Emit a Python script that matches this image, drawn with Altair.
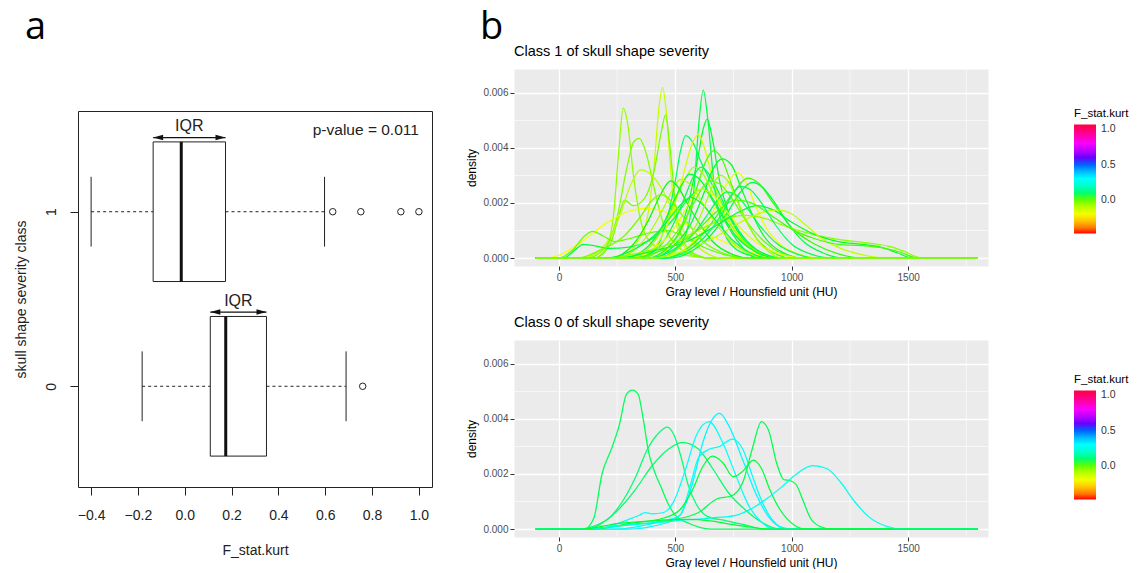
import altair as alt
import pandas as pd

# ---------------- Panel a: boxplot summary ----------------
box_class = [1, 0]
box_low = [-0.40, -0.182]
box_q1 = [-0.135, 0.109]
box_median = [-0.015, 0.175]
box_q3 = [0.174, 0.349]
box_high = [0.597, 0.689]
outlier_class = [1, 1, 1, 1, 0]
outlier_value = [0.632, 0.752, 0.923, 1.0, 0.760]
x_ticks_a = [-0.4, -0.2, 0.0, 0.2, 0.4, 0.6, 0.8, 1.0]
y_ticks_a = [0, 1]
p_value_label = ["p-value = 0.011"]
panel_letters = ["a", "b"]

# ---------------- Panel b: density curves (x in HU, y in density x 1000) ----------------
class1_kurt = [-0.05, -0.12, -0.02, -0.03, -0.10, -0.20, 0.00, 0.06, 0.07, 0.05,
               0.08, -0.14, 0.02, 0.05, -0.18, 0.03, 0.06, -0.06, 0.05, 0.07,
               -0.08, 0.04, 0.00, 0.075, -0.16, -0.04, 0.05, -0.11, 0.02, 0.06,
               -0.02, 0.08, -0.07]
class1_x = [
    [150, 200, 235, 258, 276, 295, 320, 350, 390, 450, 550, 650],
    [250, 330, 380, 410, 430, 445, 460, 480, 500, 530, 580, 650],
    [150, 220, 260, 282, 320, 370, 410, 440, 458, 475, 500, 530, 580, 650],
    [120, 200, 250, 290, 320, 345, 375, 410, 450, 500, 560, 640],
    [100, 200, 260, 310, 350, 400, 450, 500, 560, 620, 700],
    [-60, 0, 100, 200, 300, 370, 450, 550, 650, 750, 850, 950],
    [0, 60, 110, 145, 190, 240, 300, 380, 460, 540, 620, 700, 800],
    [20, 70, 105, 150, 220, 300, 400, 500, 560, 620, 680, 760, 850],
    [420, 500, 550, 580, 600, 620, 640, 665, 700, 750, 820, 900],
    [380, 470, 530, 570, 600, 620, 637, 660, 690, 730, 790, 870, 950],
    [340, 420, 470, 500, 520, 545, 575, 610, 650, 700, 760, 840, 930],
    [330, 420, 480, 530, 570, 600, 625, 660, 700, 750, 820, 900],
    [380, 470, 540, 590, 630, 665, 700, 740, 790, 850, 920, 1000],
    [400, 500, 570, 620, 660, 700, 740, 780, 830, 880, 950, 1050],
    [450, 550, 620, 680, 730, 765, 800, 840, 890, 950, 1030, 1120],
    [450, 560, 640, 700, 760, 810, 860, 920, 1000, 1100, 1200, 1300],
    [480, 580, 660, 720, 780, 830, 870, 920, 980, 1050, 1130, 1220],
    [300, 400, 460, 510, 550, 580, 615, 660, 710, 770, 850, 950],
    [280, 380, 440, 490, 530, 560, 600, 650, 700, 760, 840, 930],
    [330, 430, 490, 540, 580, 610, 640, 680, 730, 790, 870, 960],
    [250, 350, 410, 460, 495, 520, 560, 610, 670, 740, 820, 900],
    [220, 320, 380, 430, 460, 480, 510, 550, 600, 660, 740, 820],
    [350, 450, 520, 580, 620, 650, 690, 740, 800, 870, 950, 1050],
    [400, 500, 580, 640, 690, 720, 760, 810, 870, 940, 1020, 1100],
    [300, 400, 480, 540, 580, 610, 660, 720, 790, 860, 950, 1050],
    [200, 350, 500, 620, 720, 800, 880, 960, 1050, 1150, 1250, 1350, 1420, 1480, 1560],
    [250, 400, 550, 680, 780, 850, 920, 1000, 1100, 1200, 1300, 1380, 1450, 1520],
    [400, 550, 680, 780, 870, 940, 1000, 1060, 1130, 1210, 1300, 1400],
    [300, 450, 580, 680, 760, 840, 920, 1000, 1100, 1200, 1300, 1400, 1470, 1540],
    [200, 320, 420, 490, 530, 565, 610, 670, 740, 820, 900],
    [80, 180, 280, 350, 400, 440, 490, 550, 620, 700, 800],
    [450, 560, 640, 700, 745, 780, 820, 870, 930, 1000, 1080, 1170],
    [420, 520, 590, 640, 670, 695, 725, 770, 820, 880, 960],
]
class1_y = [
    [0, 0.3, 1.6, 4.0, 5.45, 4.9, 3.0, 1.4, 0.6, 0.3, 0.1, 0],
    [0, 0.5, 1.5, 3.5, 5.5, 6.2, 5.4, 3.2, 1.5, 0.5, 0.15, 0],
    [0, 0.5, 1.6, 2.1, 1.9, 2.2, 3.2, 4.6, 5.2, 4.2, 2.0, 0.7, 0.15, 0],
    [0, 0.4, 1.5, 3.2, 4.2, 4.35, 3.8, 2.5, 1.2, 0.5, 0.15, 0],
    [0, 0.5, 1.5, 2.7, 3.2, 3.0, 2.4, 1.5, 0.7, 0.25, 0],
    [0, 0.1, 0.6, 1.25, 1.7, 1.8, 1.7, 1.2, 0.8, 0.45, 0.15, 0],
    [0, 0.3, 0.8, 0.97, 0.8, 0.6, 0.7, 0.9, 1.0, 0.8, 0.4, 0.15, 0],
    [0, 0.3, 0.5, 0.45, 0.35, 0.4, 0.7, 1.5, 2.2, 2.5, 1.8, 0.7, 0],
    [0, 0.3, 1.0, 2.5, 4.8, 6.1, 5.0, 2.8, 1.2, 0.4, 0.1, 0],
    [0, 0.4, 1.2, 2.5, 3.8, 4.7, 5.05, 4.3, 2.8, 1.6, 0.7, 0.2, 0],
    [0, 0.4, 1.6, 2.8, 3.8, 4.45, 4.2, 3.5, 2.8, 2.0, 1.1, 0.35, 0],
    [0, 0.5, 1.5, 2.9, 4.1, 4.5, 4.0, 2.9, 1.9, 1.1, 0.4, 0],
    [0, 0.4, 1.3, 2.5, 3.5, 3.9, 3.6, 2.7, 1.6, 0.7, 0.2, 0],
    [0, 0.5, 1.3, 2.3, 3.2, 3.6, 3.4, 2.6, 1.6, 0.8, 0.25, 0],
    [0, 0.4, 1.0, 2.0, 2.8, 3.1, 2.8, 2.0, 1.1, 0.5, 0.15, 0],
    [0, 0.4, 1.1, 1.8, 2.5, 2.9, 2.7, 2.0, 1.1, 0.5, 0.15, 0],
    [0, 0.3, 0.9, 1.6, 2.4, 2.75, 2.6, 2.1, 1.3, 0.6, 0.2, 0],
    [0, 0.5, 1.3, 2.3, 3.0, 3.3, 3.1, 2.4, 1.6, 0.8, 0.25, 0],
    [0, 0.4, 1.1, 2.0, 2.7, 3.05, 2.9, 2.3, 1.6, 0.8, 0.25, 0],
    [0, 0.4, 1.2, 2.2, 3.0, 3.3, 3.1, 2.5, 1.6, 0.8, 0.2, 0],
    [0, 0.5, 1.2, 2.0, 2.6, 2.85, 2.7, 2.1, 1.3, 0.6, 0.15, 0],
    [0, 0.5, 1.3, 2.2, 2.65, 2.8, 2.6, 2.0, 1.3, 0.6, 0.15, 0],
    [0, 0.4, 1.1, 2.0, 2.6, 2.8, 2.7, 2.2, 1.4, 0.7, 0.2, 0],
    [0, 0.35, 0.9, 1.6, 2.2, 2.4, 2.3, 1.8, 1.1, 0.5, 0.15, 0],
    [0, 0.3, 0.9, 1.7, 2.3, 2.5, 2.3, 1.7, 1.0, 0.5, 0.15, 0],
    [0, 0.2, 0.6, 1.1, 1.45, 1.55, 1.45, 1.2, 0.95, 0.75, 0.62, 0.52, 0.42, 0.25, 0],
    [0, 0.25, 0.6, 1.2, 1.7, 1.9, 1.75, 1.3, 0.85, 0.6, 0.5, 0.4, 0.2, 0],
    [0, 0.3, 0.8, 1.3, 1.65, 1.75, 1.6, 1.2, 0.7, 0.35, 0.12, 0],
    [0, 0.3, 0.9, 1.7, 2.1, 1.95, 1.5, 1.05, 0.7, 0.5, 0.45, 0.35, 0.2, 0],
    [0, 0.3, 0.9, 1.6, 2.0, 2.2, 2.0, 1.4, 0.7, 0.2, 0],
    [0, 0.3, 0.8, 1.5, 2.1, 2.3, 2.0, 1.3, 0.6, 0.2, 0],
    [0, 0.3, 0.9, 1.6, 2.3, 2.6, 2.5, 2.0, 1.2, 0.5, 0.15, 0],
    [0, 0.4, 1.2, 2.2, 2.8, 3.0, 2.8, 2.0, 1.1, 0.4, 0],
]

class0_kurt = [0.08, 0.10, 0.09, 0.30, 0.31, 0.28, 0.06, 0.07, 0.26, 0.05]
class0_x = [
    [110, 150, 185, 225, 260, 290, 315, 340, 362, 385, 410, 440, 470, 500, 560, 650],
    [80, 200, 280, 330, 380, 430, 465, 495, 525, 555, 590, 640, 720, 800, 880],
    [120, 230, 330, 400, 470, 530, 600, 660, 730, 800, 870, 950],
    [150, 300, 345, 370, 400, 450, 490, 545, 590, 645, 700, 760, 815, 870, 930],
    [300, 450, 520, 575, 620, 660, 690, 730, 790, 845, 900, 950, 1000],
    [250, 400, 450, 520, 560, 600, 645, 690, 745, 790, 830, 875, 920, 980],
    [150, 300, 450, 520, 575, 620, 660, 705, 748, 790, 835, 870, 905, 950, 1010, 1060],
    [100, 300, 500, 600, 680, 740, 790, 830, 870, 900, 935, 965, 995, 1020, 1050, 1080, 1120, 1170],
    [100, 300, 500, 650, 760, 840, 900, 960, 1020, 1090, 1150, 1210, 1270, 1330, 1400, 1480],
    [100, 250, 400, 550, 650, 720, 800, 900],
]
class0_y = [
    [0, 0.4, 2.0, 2.9, 3.8, 4.9, 5.05, 4.9, 4.0, 2.8, 2.1, 1.5, 0.9, 0.5, 0.2, 0],
    [0, 0.3, 1.1, 1.9, 2.9, 3.5, 3.7, 3.4, 2.6, 1.6, 0.9, 0.45, 0.3, 0.15, 0],
    [0, 0.5, 1.45, 2.3, 2.9, 3.15, 2.9, 2.2, 1.3, 0.7, 0.25, 0],
    [0, 0.35, 0.5, 0.6, 0.55, 0.6, 0.95, 2.2, 3.4, 3.9, 3.2, 1.95, 0.85, 0.25, 0],
    [0, 0.2, 0.5, 1.7, 3.2, 4.0, 4.2, 3.75, 2.5, 1.3, 0.45, 0.08, 0],
    [0, 0.2, 0.3, 0.5, 1.45, 2.6, 2.9, 3.0, 3.27, 2.9, 1.95, 0.95, 0.3, 0],
    [0, 0.2, 0.4, 0.7, 1.45, 2.3, 2.65, 2.4, 1.9, 2.1, 2.5, 2.2, 1.45, 0.7, 0.15, 0],
    [0, 0.15, 0.35, 0.6, 1.1, 1.2, 1.7, 2.9, 3.9, 3.6, 2.4, 1.8, 1.75, 1.6, 1.0, 0.4, 0.1, 0],
    [0, 0.15, 0.3, 0.4, 0.5, 0.8, 1.15, 1.55, 2.0, 2.3, 2.2, 1.7, 1.0, 0.45, 0.12, 0],
    [0, 0.2, 0.3, 0.35, 0.3, 0.2, 0.1, 0],
]
hu_start, hu_end = -100, 1800
hu_ticks = [0, 500, 1000, 1500]
hu_minor = [250, 750, 1250, 1750]
density_ticks = [0.0, 0.002, 0.004, 0.006]
density_minor = [0.001, 0.003, 0.005]
legend_values = [0.0, 0.5, 1.0]
kurt_stops = [-0.48, -0.22, 0.04, 0.30, 0.55, 0.81, 1.07]
kurt_colors = ["#FF0000", "#FFFF00", "#00FF00", "#00FFFF", "#0000FF", "#FF00FF", "#FF0040"]

FONT = "Liberation Sans"
INK = "#222222"
LETTER_SIZE = 38

# ---------------- Panel a ----------------
box_df = pd.DataFrame(dict(cls=box_class, low=box_low, q1=box_q1, med=box_median,
                           q3=box_q3, high=box_high))
out_df = pd.DataFrame(dict(cls=outlier_class, value=outlier_value))
p_df = pd.DataFrame(dict(x=[max(x_ticks_a)], cls=[max(y_ticks_a)], label=p_value_label))

xs_a = alt.Scale(domain=[-0.456, 1.056], nice=False, zero=False)
ys_a = alt.Scale(domain=[-0.577, 1.577], nice=False, zero=False)
ax_a = alt.Axis(values=x_ticks_a, format=".1f", title="F_stat.kurt", domain=False, grid=False,
                tickSize=8, tickColor=INK, labelColor=INK, labelFontSize=14, labelPadding=13,
                titleFontSize=14, titleFontWeight="normal", titleColor=INK, titlePadding=21,
                labelFlush=False, labelFont=FONT, titleFont=FONT)
ay_a = alt.Axis(values=y_ticks_a, format="d", title="skull shape severity class", domain=False,
                grid=False, tickSize=8, tickColor=INK, labelColor=INK, labelFontSize=14,
                labelAngle=-90, labelAlign="center", labelBaseline="bottom", labelPadding=12,
                titleFontSize=14, titleFontWeight="normal", titleColor=INK, titlePadding=16,
                labelFont=FONT, titleFont=FONT)


def XA(f):
    return alt.X(f, type="quantitative", scale=xs_a, axis=ax_a)


def YA(f):
    return alt.Y(f, type="quantitative", scale=ys_a, axis=ay_a)


base_a = alt.Chart(box_df).transform_calculate(
    ylo="datum.cls - 0.4", yhi="datum.cls + 0.4",
    clo="datum.cls - 0.2", chi="datum.cls + 0.2",
    arr="datum.cls + 0.425", txt="datum.cls + 0.49",
    mid="(datum.q1 + datum.q3) / 2")

whisk_l = base_a.mark_rule(color=INK, strokeDash=[3, 3], strokeWidth=1).encode(
    x=XA("low"), x2="q1", y=YA("cls"))
whisk_r = base_a.mark_rule(color=INK, strokeDash=[3, 3], strokeWidth=1).encode(
    x=XA("q3"), x2="high", y=YA("cls"))
cap_l = base_a.mark_rule(color=INK, strokeWidth=1).encode(x=XA("low"), y=YA("clo"), y2="chi")
cap_r = base_a.mark_rule(color=INK, strokeWidth=1).encode(x=XA("high"), y=YA("clo"), y2="chi")
box = base_a.mark_rect(fill="white", stroke=INK, strokeWidth=1).encode(
    x=XA("q1"), x2="q3", y=YA("ylo"), y2="yhi")
med = base_a.mark_rule(color="#111111", strokeWidth=3).encode(x=XA("med"), y=YA("ylo"), y2="yhi")
outl = alt.Chart(out_df).mark_point(shape="circle", filled=False, size=42, color=INK,
                                    strokeWidth=1, opacity=1).encode(x=XA("value"), y=YA("cls"))
iqr_line = base_a.mark_rule(color="#111111", strokeWidth=1.2).encode(
    x=XA("q1"), x2="q3", y=YA("arr"))
arrow_l = base_a.mark_point(shape="M0,0L2,-0.55L2,0.55Z", filled=True, size=100,
                            color="#111111", opacity=1).encode(x=XA("q1"), y=YA("arr"))
arrow_r = base_a.mark_point(shape="M0,0L-2,-0.55L-2,0.55Z", filled=True, size=100,
                            color="#111111", opacity=1).encode(x=XA("q3"), y=YA("arr"))
iqr_txt = base_a.mark_text(text="IQR", fontSize=16, font=FONT, color=INK,
                           baseline="middle").encode(x=XA("mid"), y=YA("txt"))
p_txt = alt.Chart(p_df).transform_calculate(yy="datum.cls + 0.47").mark_text(
    fontSize=15.5, font=FONT, color=INK, align="right", baseline="middle").encode(
    x=XA("x"), y=YA("yy"), text="label:N")

panel_a = alt.layer(whisk_l, whisk_r, cap_l, cap_r, box, med, outl, iqr_line, arrow_l,
                    arrow_r, iqr_txt, p_txt).properties(
    width=354, height=376,
    view=alt.ViewBackground(fill="white", stroke=INK, strokeWidth=1))


def letter_row(letter, width, dx):
    # a slim, frameless strip that only carries the panel letter
    return alt.Chart(pd.DataFrame({"t": [letter]})).mark_text(
        fontSize=LETTER_SIZE, font="Open Sans", color="black", align="left",
        baseline="alphabetic").encode(
        text="t:N", x=alt.value(dx), y=alt.value(LETTER_SIZE * 0.8)).properties(
        width=width, height=31, view=alt.ViewBackground(stroke="transparent"))


# ---------------- Panel b ----------------
def density_panel(kurts, xs_list, ys_list, title, legend_y):
    rows = []
    for i, (k, xs, ys) in enumerate(zip(kurts, xs_list, ys_list)):
        pts = [(hu_start, 0)] + list(zip(xs, ys)) + [(hu_end, 0)]
        for x, y in pts:
            rows.append(dict(curve=i, kurt=k, hu=x, dm=y))
    df = pd.DataFrame(rows)
    xsc = alt.Scale(domain=[-193, 1843], nice=False, zero=False)
    ysc = alt.Scale(domain=[-0.00029, 0.00687], nice=False, zero=False)
    xax = alt.Axis(values=hu_ticks, format="d", title="Gray level / Hounsfield unit (HU)",
                   grid=True, gridColor="white", gridWidth=1.3, domain=False, tickSize=4,
                   tickColor="#333333", labelColor="#4D4D4D", labelFontSize=10, labelPadding=2,
                   titleFontSize=12, titleFontWeight="normal", titleColor="black",
                   titlePadding=4, labelFlush=False, labelFont=FONT, titleFont=FONT)
    yax = alt.Axis(values=density_ticks, format=".3f", title="density",
                   grid=True, gridColor="white", gridWidth=1.3, domain=False, tickSize=4,
                   tickColor="#333333", labelColor="#4D4D4D", labelFontSize=10, labelPadding=2,
                   titleFontSize=12, titleFontWeight="normal", titleColor="black",
                   titlePadding=4, labelFont=FONT, titleFont=FONT)
    mx = alt.Chart(pd.DataFrame({"hu": hu_minor})).mark_rule(
        color="white", strokeWidth=0.6).encode(x=alt.X("hu:Q", scale=xsc, axis=xax))
    my = alt.Chart(pd.DataFrame({"density": density_minor})).mark_rule(
        color="white", strokeWidth=0.6).encode(y=alt.Y("density:Q", scale=ysc, axis=yax))
    lines = alt.Chart(df).transform_calculate(density="datum.dm / 1000").mark_line(
        interpolate="monotone", strokeWidth=1.25).encode(
        x=alt.X("hu:Q", scale=xsc, axis=xax),
        y=alt.Y("density:Q", scale=ysc, axis=yax),
        color=alt.Color("kurt:Q", scale=alt.Scale(domain=kurt_stops, range=kurt_colors),
                        legend=alt.Legend(title="F_stat.kurt", orient="none", legendX=560,
                                          legendY=legend_y, values=legend_values, format=".1f",
                                          gradientLength=109, gradientThickness=22,
                                          gradientStrokeWidth=0, direction="vertical",
                                          titleFontSize=11.5, titleFontWeight="normal",
                                          titleColor="black", titleFont=FONT,
                                          labelFontSize=10.5, labelColor="#333333",
                                          labelFont=FONT, titlePadding=5, labelOffset=5)),
        detail="curve:N",
        order="hu:Q")
    return alt.layer(mx, my, lines).properties(
        width=474, height=197,
        view=alt.ViewBackground(fill="#EBEBEB", stroke="transparent"),
        title=alt.TitleParams(title, anchor="start", frame="group", fontSize=14.5, font=FONT,
                              fontWeight="normal", color="black", offset=9))


b1 = density_panel(class1_kurt, class1_x, class1_y, "Class 1 of skull shape severity", 99)
b2 = density_panel(class0_kurt, class0_x, class0_y, "Class 0 of skull shape severity", 34)

left = alt.vconcat(letter_row(panel_letters[0], 354, -53), panel_a, spacing=62)
top_right = alt.vconcat(letter_row(panel_letters[1], 474, -34), b1, spacing=-5)
right = alt.vconcat(top_right, b2, spacing=16).resolve_scale(
    color="independent", x="independent", y="independent").resolve_legend(color="independent")

chart = alt.hconcat(left, right, spacing=32).properties(
    padding={"left": 5, "top": 0, "right": 0, "bottom": 0}
).configure(font=FONT)

chart.save("out.html", embed_options={"renderer": "svg", "actions": False})
